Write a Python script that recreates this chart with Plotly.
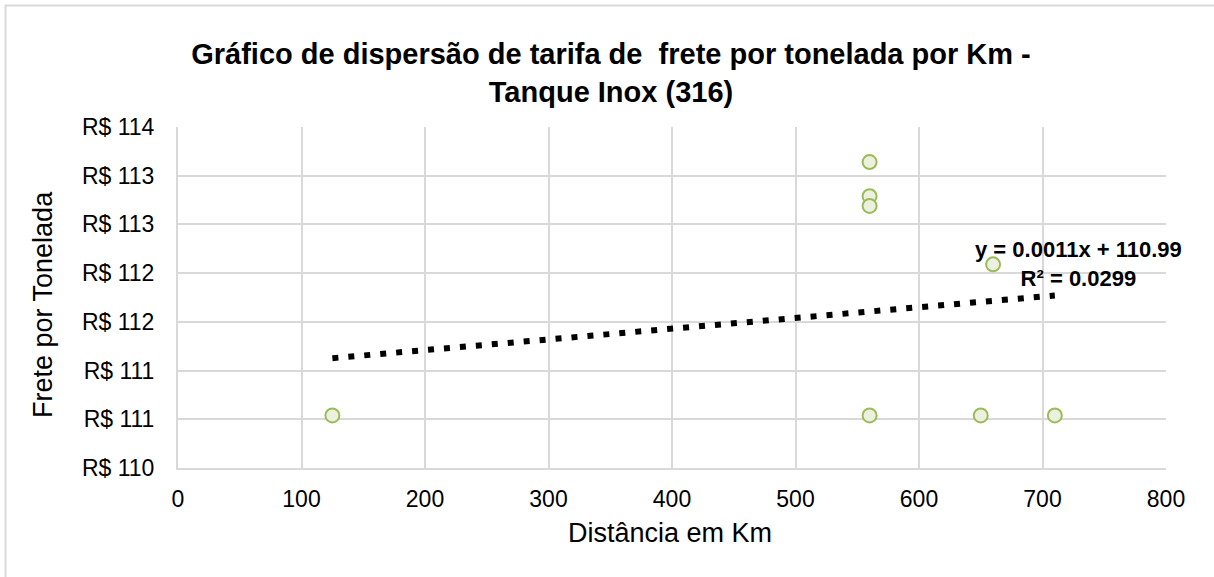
import plotly.graph_objects as go

# ---- data ----
distancia_km = [125, 560, 560, 560, 560, 660, 650, 710]
frete_ton = [110.54, 113.14, 112.79, 112.69, 110.54, 112.09, 110.54, 110.54]

trend_slope = 0.0011
trend_intercept = 110.99
trend_label = ["y = 0.0011x + 110.99", "R² = 0.0299"]

x_ticks = [0, 100, 200, 300, 400, 500, 600, 700, 800]
y_ticks = [110, 110.5, 111, 111.5, 112, 112.5, 113, 113.5]
y_tick_labels = ["R$ 110", "R$ 111", "R$ 111", "R$ 112", "R$ 112", "R$ 113", "R$ 113", "R$ 114"]

title_text = "Gráfico de dispersão de tarifa de  frete por tonelada por Km -<br>Tanque Inox (316)"
x_title = "Distância em Km"
y_title = "Frete por Tonelada"

# ---- layout geometry (pixels) ----
W, H = 1214, 577
L, R, T, B = 178, 48, 127, 109
pw, ph = W - L - R, H - T - B

def px_x(p):
    return (p - L) / pw

def px_y(p):
    return (H - B - p) / ph

FONT = "Liberation Sans, Arial, sans-serif"

fig = go.Figure()

# trendline (linear, from the fitted equation, across data range)
tx = [min(distancia_km), max(distancia_km)]
ty = [trend_slope * v + trend_intercept for v in tx]
fig.add_trace(go.Scatter(
    x=tx, y=ty, mode="lines",
    line=dict(color="#000000", width=6, dash="6px,10px"),
    hoverinfo="skip", showlegend=False,
))

fig.add_trace(go.Scatter(
    x=distancia_km, y=frete_ton, mode="markers",
    marker=dict(size=14, color="#EBF1DE", line=dict(color="#9BBB59", width=2)),
    showlegend=False,
))

fig.update_layout(
    width=W, height=H,
    margin=dict(l=L, r=R, t=T, b=B),
    paper_bgcolor="white", plot_bgcolor="white",
    font=dict(family=FONT, color="#000000", size=22),
    title=dict(
        text=title_text, x=611 / W, xanchor="center",
        y=1 - 64 / H, yanchor="middle", yref="container",
        font=dict(family=FONT, size=29, color="#000000", weight="bold"),
    ),
    xaxis=dict(
        range=[0, 800], tickvals=x_ticks, ticktext=[str(v) for v in x_ticks],
        showgrid=True, gridcolor="#D9D9D9", gridwidth=2,
        showline=True, linecolor="#D9D9D9", linewidth=2,
        zeroline=False, ticks="", ticklabelstandoff=9,
        tickfont=dict(family=FONT, size=23),
    ),
    yaxis=dict(
        range=[110, 113.5], tickvals=y_ticks, ticktext=y_tick_labels,
        showgrid=True, gridcolor="#D9D9D9", gridwidth=2,
        showline=True, linecolor="#D9D9D9", linewidth=2,
        zeroline=False, ticks="", ticklabelstandoff=17,
        tickfont=dict(family=FONT, size=23),
    ),
    annotations=[
        dict(
            text="<br>".join(trend_label), xref="paper", yref="paper",
            x=px_x(1078), y=px_y(264), xanchor="center", yanchor="middle",
            showarrow=False, align="center",
            font=dict(family=FONT, size=22, color="#000000", weight="bold"),
        ),
        dict(
            text=x_title, xref="paper", yref="paper",
            x=px_x(670), y=px_y(533), xanchor="center", yanchor="middle",
            showarrow=False, font=dict(family=FONT, size=27, color="#000000"),
        ),
        dict(
            text=y_title, xref="paper", yref="paper", textangle=-90,
            x=px_x(43), y=px_y(305), xanchor="center", yanchor="middle",
            showarrow=False, font=dict(family=FONT, size=27, color="#000000"),
        ),
    ],
    shapes=[
        dict(
            type="rect", xref="paper", yref="paper",
            x0=px_x(5.5), x1=px_x(W + 10), y0=px_y(H + 10), y1=px_y(5.5),
            line=dict(color="#D9D9D9", width=2), fillcolor="rgba(0,0,0,0)",
            layer="below",
        )
    ],
)

fig.write_html("out.html", config={"displayModeBar": False},
               post_script="document.body.style.margin='0';")
